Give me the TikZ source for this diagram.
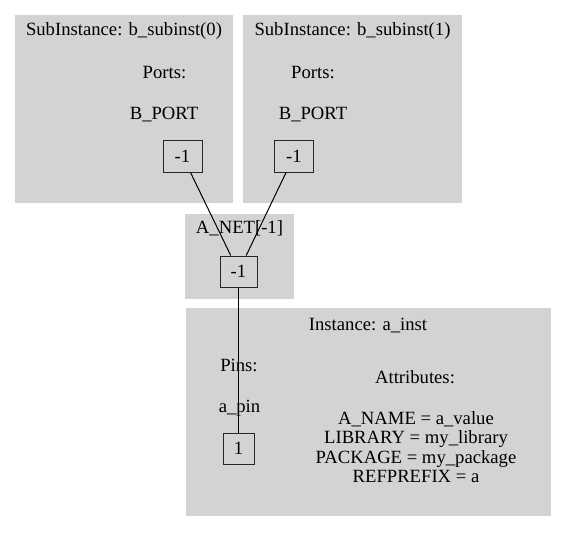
\documentclass[tikz,border=0pt]{standalone}
\usepackage{fontspec}
\setmainfont{Liberation Serif}
\definecolor{clustergray}{HTML}{D3D3D3}
\tikzset{
  cluster/.style={fill=clustergray},
  pinbox/.style={draw=black!85, line width=0.75pt, inner sep=0pt, font=\fontsize{14}{16}\selectfont},
  lbl/.style={anchor=base, inner sep=0pt, font=\fontsize{14}{16}\selectfont},
  wire/.style={draw=black, line width=0.75pt}
}
\begin{document}
\begin{tikzpicture}[x=0.75pt, y=-0.75pt]
  \useasboundingbox (0,0) rectangle (567,532);
  % clusters
  \fill[cluster] (15,15) rectangle (233,203);
  \fill[cluster] (243,15) rectangle (462,203);
  \fill[cluster] (185,214) rectangle (294,299);
  \fill[cluster] (186,308) rectangle (551,516);
  % sub instances
  \node[lbl] (subtitle0) at (124,35) {SubInstance: b\_subinst(0)};
  \node[lbl] (ports0) at (164.5,78) {Ports:};
  \node[lbl] (bport0) at (164,119) {B\_PORT};
  \node[pinbox, minimum width=29.25pt, minimum height=24pt] (port0) at (182.5,156) {-1};
  \node[lbl] (subtitle1) at (352.5,35) {SubInstance: b\_subinst(1)};
  \node[lbl] (ports1) at (313,78) {Ports:};
  \node[lbl] (bport1) at (313,119) {B\_PORT};
  \node[pinbox, minimum width=29.25pt, minimum height=24pt] (port1) at (294,156) {-1};
  % net
  \node[lbl] (nettitle) at (239.5,233) {A\_NET[-1]};
  \node[pinbox, minimum width=27.75pt, minimum height=23.25pt] (net) at (238.5,271.5) {-1};
  % instance
  \node[lbl] (insttitle) at (368,330) {Instance: a\_inst};
  \node[lbl] (pins) at (239,371) {Pins:};
  \node[lbl] (apin) at (239.5,412) {a\_pin};
  \node[pinbox, minimum width=23.25pt, minimum height=23.25pt] (pin) at (238.5,448.5) {1};
  \node[lbl] (attrs) at (415,383) {Attributes:};
  \node[lbl] (attr1) at (416,424) {A\_NAME = a\_value};
  \node[lbl] (attr2) at (416,443.5) {LIBRARY = my\_library};
  \node[lbl] (attr3) at (416,463) {PACKAGE = my\_package};
  \node[lbl] (attr4) at (416,482.5) {REFPREFIX = a};
  % wires
  \draw[wire] (port0) -- (net);
  \draw[wire] (port1) -- (net);
  \draw[wire] (net) -- (pin);
\end{tikzpicture}
\end{document}
